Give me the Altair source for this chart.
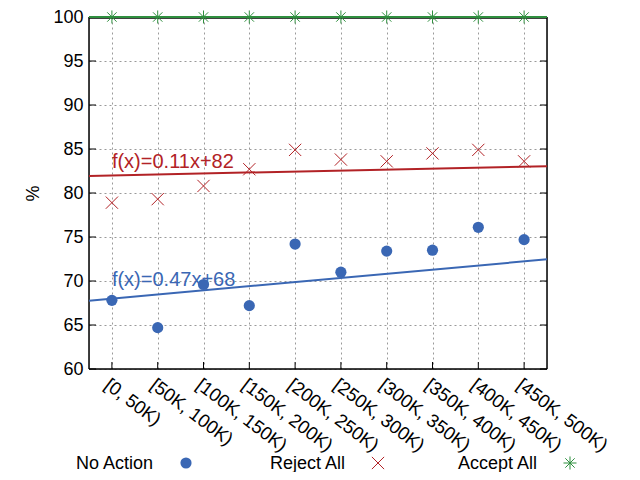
import json
import altair as alt
import pandas as pd

# ---- data ----
categories = ["[0, 50K)", "[50K, 100K)", "[100K, 150K)", "[150K, 200K)", "[200K, 250K)",
              "[250K, 300K)", "[300K, 350K)", "[350K, 400K)", "[400K, 450K)", "[450K, 500K)"]
no_action = [67.8, 64.7, 69.6, 67.2, 74.2, 71.0, 73.4, 73.5, 76.1, 74.7]
reject_all = [78.9, 79.3, 80.8, 82.7, 84.9, 83.8, 83.6, 84.5, 84.9, 83.6]
accept_all = [100, 100, 100, 100, 100, 100, 100, 100, 100, 100]
series_names = ["No Action", "Reject All", "Accept All"]
series_colors = ["#3a67b4", "#b22226", "#2f8f3f"]
fit_slopes = [0.47, 0.11, 0.0]
fit_intercepts = [68, 82, 100]
fit_texts = ["f(x)=0.47x+68", "f(x)=0.11x+82"]
fit_text_y = [69.45, 82.85]
y_ticks = [60, 65, 70, 75, 80, 85, 90, 95, 100]

FONT = "Liberation Sans"
W, H = 458, 352

idx = list(range(len(categories)))
pts = pd.DataFrame({
    "x": idx * 3,
    "y": no_action + reject_all + accept_all,
    "series": [series_names[0]] * 10 + [series_names[1]] * 10 + [series_names[2]] * 10,
})

x_lo, x_hi = -0.5, len(categories) - 0.5
fit_rows = []
for name, m, b in zip(series_names, fit_slopes, fit_intercepts):
    for xv in (x_lo, x_hi):
        fit_rows.append({"x": xv, "y": m * xv + b, "series": name})
fits = pd.DataFrame(fit_rows)

label_df = pd.DataFrame({"x": [0, 0], "y": fit_text_y, "text": fit_texts,
                         "series": series_names[:2]})

GRID = dict(grid=True, gridColor="#9a9a9a", gridDash=[2, 3], gridWidth=1, gridOpacity=1)

x_enc = alt.X(
    "x:Q",
    scale=alt.Scale(domain=[x_lo, x_hi], nice=False, zero=False),
    axis=alt.Axis(
        values=idx,
        labelExpr=json.dumps(categories) + "[datum.value]",
        labelAngle=37, labelAlign="left", labelBaseline="top", labelPadding=6,
        labelFontSize=18.5, labelOverlap=False, ticks=False, domain=False,
        title=None, **GRID,
    ),
)
y_enc = alt.Y(
    "y:Q",
    scale=alt.Scale(domain=[60, 100], nice=False, zero=False),
    axis=alt.Axis(
        values=y_ticks, labelFontSize=18, labelPadding=6, ticks=False, domain=False,
        title="%", titleFontSize=18, titleFontWeight="normal",
        titleAngle=270, titleX=-56, titleY=H / 2, titleAlign="center",
        titleBaseline="middle", **GRID,
    ),
)
color_scale = alt.Scale(domain=series_names, range=series_colors)

X_PATH = "M-1,-1L1,1M1,-1L-1,1"
STAR_PATH = "M-1,0L1,0M0,-1L0,1M-0.72,-0.72L0.72,0.72M0.72,-0.72L-0.72,0.72"

base_pts = alt.Chart(pts)
circles = base_pts.transform_filter(alt.datum.series == series_names[0]).mark_circle(
    size=125, opacity=1, color=series_colors[0]).encode(x=x_enc, y=y_enc)
crosses = base_pts.transform_filter(alt.datum.series == series_names[1]).mark_point(
    shape=X_PATH, size=150, filled=False, strokeWidth=1, opacity=1,
    color=series_colors[1]).encode(x=x_enc, y=y_enc)
stars = base_pts.transform_filter(alt.datum.series == series_names[2]).mark_point(
    shape=STAR_PATH, size=170, filled=False, strokeWidth=1, opacity=1,
    color=series_colors[2]).encode(x=x_enc, y=y_enc)

# plot frame (drawn before the fit lines so the green 100% line sits on top)
frame_style = dict(color="black", strokeWidth=1.5)
frame = [
    alt.Chart(pd.DataFrame({"k": [0]})).mark_rule(**frame_style).encode(
        x=alt.value(0), x2=alt.value(W), y=alt.value(1)),
    alt.Chart(pd.DataFrame({"k": [0]})).mark_rule(**frame_style).encode(
        x=alt.value(0), x2=alt.value(W), y=alt.value(H)),
    alt.Chart(pd.DataFrame({"k": [0]})).mark_rule(**frame_style).encode(
        x=alt.value(0), y=alt.value(0), y2=alt.value(H)),
    alt.Chart(pd.DataFrame({"k": [0]})).mark_rule(**frame_style).encode(
        x=alt.value(W), y=alt.value(0), y2=alt.value(H)),
]

lines = alt.Chart(fits).mark_line(strokeWidth=2).encode(
    x=x_enc, y=y_enc, detail="series:N",
    color=alt.Color("series:N", scale=color_scale, legend=None))

fit_labels = alt.Chart(label_df).mark_text(
    align="left", baseline="alphabetic", fontSize=20, font=FONT).encode(
    x=x_enc, y=y_enc, text="text:N",
    color=alt.Color("series:N", scale=color_scale, legend=None))

tick_df = pd.DataFrame({"y": y_ticks})
left_ticks = alt.Chart(tick_df).mark_rule(color="black", strokeWidth=1).encode(
    x=alt.value(0), x2=alt.value(7), y=y_enc)
right_ticks = alt.Chart(tick_df).mark_rule(color="black", strokeWidth=1).encode(
    x=alt.value(W - 7), x2=alt.value(W), y=y_enc)
xt_df = pd.DataFrame({"x": idx})
bottom_ticks = alt.Chart(xt_df).mark_rule(color="black", strokeWidth=1).encode(
    x=x_enc, y=alt.value(H), y2=alt.value(H - 7))

# legend (gnuplot style: label then symbol)
legend_layers = []
shapes = ["circle", X_PATH, STAR_PATH]
sizes = [125, 150, 170]
for i, name in enumerate(series_names):
    ldf = pd.DataFrame({"label": [name]})
    legend_layers.append(alt.Chart(ldf).mark_text(
        align="right", baseline="alphabetic", fontSize=18, font=FONT, color="black").encode(
        x=alt.value(64 + 192 * i), y=alt.value(452), text="label:N"))
    legend_layers.append(alt.Chart(ldf).mark_point(
        shape=shapes[i], size=sizes[i], filled=(i == 0), strokeWidth=1, opacity=1,
        color=series_colors[i]).encode(x=alt.value(97 + 192 * i), y=alt.value(446)))

chart = alt.layer(
    *frame, left_ticks, right_ticks, bottom_ticks,
    lines, circles, crosses, stars, fit_labels,
    *legend_layers
).properties(
    width=W, height=H,
    padding={"left": 81, "top": 9, "right": 85, "bottom": 103},
    autosize=alt.AutoSizeParams(type="none"),
).configure_view(
    stroke=None
).configure_axis(
    labelFont=FONT, titleFont=FONT, labelColor="black", titleColor="black",
).configure(background="white")

chart.save("out.html", embed_options={"renderer": "svg", "actions": False})
